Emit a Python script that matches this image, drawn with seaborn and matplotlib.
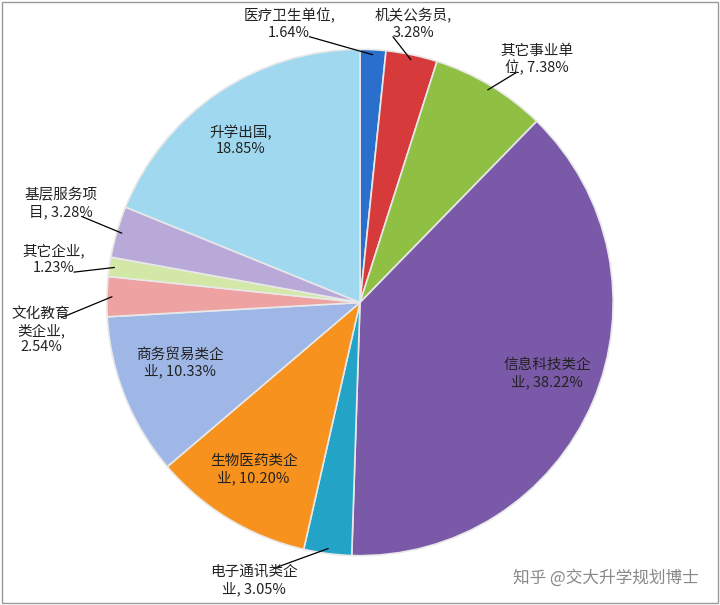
import matplotlib
matplotlib.use("Agg")
import matplotlib.pyplot as plt
import seaborn as sns
import numpy as np

sns.set_theme(style="white")
plt.rcParams["font.family"] = ["Noto Sans CJK SC", "DejaVu Sans"]

labels = ["医疗卫生单位,\n1.64%", "机关公务员,\n3.28%", "其它事业单\n位, 7.38%",
          "信息科技类企\n业, 38.22%", "电子通讯类企\n业, 3.05%", "生物医药类企\n业, 10.20%",
          "商务贸易类企\n业, 10.33%", "文化教育\n类企业,\n2.54%", "其它企业,\n1.23%",
          "基层服务项\n目, 3.28%", "升学出国,\n18.85%"]
values = [1.64, 3.28, 7.38, 38.22, 3.05, 10.20, 10.33, 2.54, 1.23, 3.28, 18.85]
colors = ["#2a6fcc", "#d63a3a", "#8fc043", "#7a59a8", "#23a3c6", "#f7921e",
          "#9fb7e6", "#eea2a2", "#d3e8a6", "#b9a9d9", "#9fd8ef"]
# label text positions (in pie radius units) and whether a leader line is drawn
label_pos = [(-0.28, 1.10), (0.21, 1.10), (0.70, 0.96), (0.74, -0.28), (-0.42, -1.10),
             (-0.42, -0.66), (-0.71, -0.24), (-1.26, -0.11), (-1.21, 0.17),
             (-1.18, 0.39), (-0.47, 0.64)]
leader = [True, True, True, False, True, False, False, True, True, True, False]

fig = plt.figure(figsize=(7.2, 6.05), dpi=100)
ax = fig.add_axes([0.0, 0.0, 1.0, 1.0])
wedges, _ = ax.pie(values, colors=colors, startangle=90, counterclock=False,
                   radius=1.0, center=(0, 0),
                   wedgeprops=dict(edgecolor="#e8e8e8", linewidth=1.2))

for w, lab, (tx, ty), ld in zip(wedges, labels, label_pos, leader):
    ang = np.deg2rad((w.theta1 + w.theta2) / 2)
    ax.text(tx, ty, lab, ha="center", va="center", fontsize=10.5, color="#222222")
    if ld:
        ex, ey = 0.98 * np.cos(ang), 0.98 * np.sin(ang)
        ax.plot([ex, tx + (0.08 if tx < ex else -0.08)], [ey, ty + (0.05 if ty < ey else -0.05)],
                color="black", lw=0.9)

ax.text(1.34, -1.09, "知乎 @交大升学规划博士", ha="right", va="center",
        fontsize=12, color="#888888")
ax.set_xlim(-1.42, 1.42)
ax.set_ylim(-1.195, 1.195)
ax.set_aspect("equal")
ax.axis("off")
fig.patches.append(plt.Rectangle((0.003, 0.003), 0.994, 0.994, transform=fig.transFigure,
                                 fill=False, edgecolor="#999999", lw=1.0))
fig.savefig("out.png", dpi=100)
